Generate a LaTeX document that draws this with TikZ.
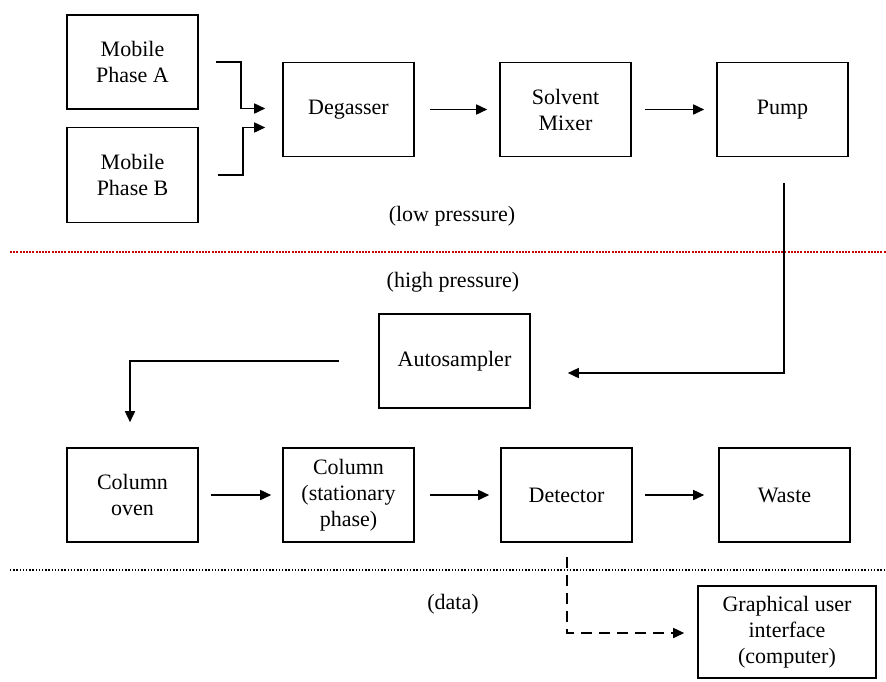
\documentclass[tikz,border=0pt]{standalone}
\usepackage{fontspec}
\setmainfont{Liberation Serif}
\usetikzlibrary{arrows.meta}
\begin{document}
\begin{tikzpicture}[x=0.5pt,y=-0.5pt,
  every node/.style={font=\fontsize{11}{13}\selectfont},
  box/.style={draw, line width=0.8pt, align=center, inner sep=0pt,
              minimum width=65.5pt, minimum height=47pt},
  arr/.style={line width=0.8pt, -{Triangle[length=5.5pt,width=5pt]}},
  dasharr/.style={arr, dash pattern=on 5.5pt off 3.5pt},
  reddots/.style={draw={rgb,255:red,200;green,0;blue,0}, line width=0.8pt, dash pattern=on 1pt off 0.6pt},
  blackdots/.style={draw=black, line width=0.7pt, dash pattern=on 0.7pt off 0.9pt},
  lbl/.style={inner sep=0pt}]
\useasboundingbox (0,0) rectangle (886,681);
% top row
\node[box] (mpa) at (132.5,62) {Mobile\\Phase A};
\node[box, minimum height=47.5pt] (mpb) at (132.5,175) {Mobile\\Phase B};
\node[box] (deg) at (348.5,109.5) {Degasser};
\node[box] (mix) at (565.5,109.5) {Solvent\\Mixer};
\node[box] (pump) at (782.5,109.5) {Pump};
% middle
\node[box, minimum width=75.5pt] (auto) at (454.5,361) {Autosampler};
% bottom row
\node[box] (oven) at (132.5,495) {Column\\oven};
\node[box] (col) at (348.5,495) {Column\\(stationary\\phase)};
\node[box] (det) at (566.5,495) {Detector};
\node[box] (waste) at (784.5,495) {Waste};
\node[box, minimum width=89pt, minimum height=46pt] (gui) at (787,632) {Graphical user\\interface\\(computer)};
% labels
\node[lbl] (low) at (452,216) {(low pressure)};
\node[lbl] (high) at (453,282) {(high pressure)};
\node[lbl] (data) at (453,604) {(data)};
% separators
\coordinate (r1) at (10,252); \coordinate (r2) at (886,252);
\coordinate (k1) at (10,570); \coordinate (k2) at (886,570);
\draw[reddots] (r1) -- (r2);
\draw[blackdots] (k1) -- (k2);
% connectors
\draw[arr] ([xshift=8.5pt]mpa.east) -- ++(12.5pt,0) |- ([xshift=-8.5pt,yshift=0.5pt]deg.west);
\draw[arr] ([xshift=9.5pt]mpb.east) -- ++(12.5pt,0) |- ([xshift=-8.5pt,yshift=-9pt]deg.west);
\draw[arr] ([xshift=7.5pt]deg.east) -- ([xshift=-6pt]mix.west);
\draw[arr] ([xshift=6.5pt]mix.east) -- ([xshift=-6pt]pump.west);
\draw[arr] ([xshift=0.75pt,yshift=-13pt]pump.south) |- ([xshift=18.5pt,yshift=-6pt]auto.east);
\draw[arr] ([xshift=-19.5pt]auto.west) -| ([xshift=-1.25pt,yshift=12.5pt]oven.north);
\draw[arr] ([xshift=6pt]oven.east) -- ([xshift=-5.5pt]col.west);
\draw[arr] ([xshift=7.5pt]col.east) -- ([xshift=-5.5pt]det.west);
\draw[arr] ([xshift=6pt]det.east) -- ([xshift=-7pt]waste.west);
\draw[dasharr] ([xshift=0.25pt,yshift=-7.25pt]det.south) |- ([xshift=-6.5pt,yshift=-0.5pt]gui.west);
\end{tikzpicture}
\end{document}
